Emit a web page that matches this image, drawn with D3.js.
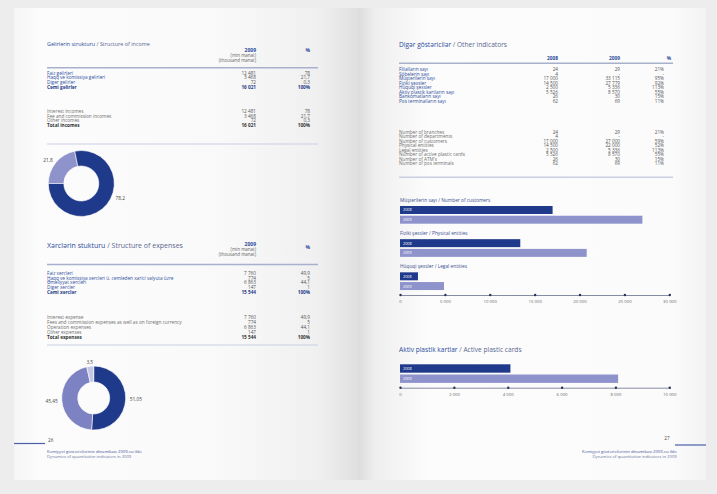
<!DOCTYPE html>
<html><head><meta charset="utf-8">
<script src="https://cdn.jsdelivr.net/npm/d3@7"></script>
<style>body{margin:0;background:#ededed;} svg{display:block;font-family:"Open Sans",sans-serif;}</style>
</head><body><svg id="c" width="717" height="494"></svg>
<script>
// ---------------- DATA ----------------
const incomeTitle = ["Gəlirlərin strukturu", "Structure of income"];
const incomeRowsAz = ["Faiz gəlirləri", "Haqq və komissiya gəlirləri", "Digər gəlirlər", "Cəmi gəlirlər"];
const incomeRowsEn = ["Interest incomes", "Fee and commission incomes", "Other incomes", "Total incomes"];
const incomeValues = [12481, 3468, 72, 16021];
const incomePct = ["78", "21,7", "0,3", "100%"];
const incomeDonutValues = [21.8, 78.2];
const incomeDonutLabels = ["21,8", "78,2"];

const expenseTitle = ["Xərclərin stukturu", "Structure of expenses"];
const expenseRowsAz = ["Faiz xərcləri", "Haqq və komissiya  xərcləri ü. cəmlədən xarici valyuta üzrə", "Əməliyyat xərcləri", "Digər xərclər", "Cəmi xərclər"];
const expenseRowsEn = ["Interest expense", "Fees and commission expenses as well as on foreign currency", "Operation expenses", "Other expenses", "Total expenses"];
const expenseValues = [7760, 774, 6863, 147, 15544];
const expensePct = ["49,9", "5", "44,1", "1", "100%"];
const expenseDonutValues = [51.05, 45.45, 3.5];
const expenseDonutLabels = ["51,05", "45,45", "3,5"];

const unitHeader = ["2009", "(min manat)", "(thousand manat)"];

const indicatorsTitle = ["Digər göstəricilər", "Other indicators"];
const indicatorYears = ["2008", "2009"];
const indicatorRowsAz = ["Filialların sayı", "Şöbələrin sayı", "Müştərilərin sayı", "Fiziki şəxslər", "Hüquqi şəxslər", "Aktiv plastik kartların sayı", "Bankomatların sayı", "Pos terminalların sayı"];
const indicatorRowsEn = ["Number of branches", "Number of departments", "Number of customers", "Physical entities", "Legal entities", "Number of active plastic cards", "Number of ATM's", "Number of pos terminals"];
const ind2008 = [24, 4, 17000, 14500, 2500, 5526, 26, 62];
const ind2009Az = [29, null, 33115, 27779, 5336, 8570, 30, 69];
const indPctAz = ["21%", "-", "95%", "92%", "113%", "55%", "15%", "11%"];
const ind2009En = [29, null, 27000, 22000, 5336, 8570, 30, 69];
const indPctEn = ["21%", "-", "59%", "52%", "113%", "55%", "15%", "11%"];

const barGroups = ["Müştərilərin sayı / Number of customers", "Fiziki şəxslər / Physical entities", "Hüquqi şəxslər / Legal entities"];
const bars2008 = [17000, 13400, 2000];
const bars2009 = [27000, 20800, 4900];
const barTicks = [0, 5000, 10000, 15000, 20000, 25000, 30000];

const cardsTitle = ["Aktiv plastik kartlar", "Active plastic cards"];
const cards2008 = [4100];
const cards2009 = [8100];
const cardTicks = [0, 2000, 4000, 6000, 8000, 10000];

const pageNumbers = ["26", "27"];
const footerLines = ["Kəmiyyət göstəricilərinin dinamikası 2009-cu ildə", "Dynamics of quantitative indicators in 2009"];

// ---------------- STYLE ----------------
const DARK = "#1f3a8a", LIGHT = "#8f93cb", MID = "#7c82c2", PALE = "#c4c7e5";
const BLUE_TXT = "#2f4f9e", GRAY_TXT = "#707070", VAL_TXT = "#555";
const fmt = d3.formatLocale({decimal: ",", thousands: " ", grouping: [3], currency: ["", ""]}).format(",d");
const fmtV = v => v == null ? "-" : fmt(v);

const svg = d3.select("#c");
const defs = svg.append("defs");
function grad(id, stops) {
  const g = defs.append("linearGradient").attr("id", id).attr("x1", 0).attr("x2", 1).attr("y1", 0).attr("y2", 0);
  stops.forEach(s => g.append("stop").attr("offset", s[0]).attr("stop-color", s[1]));
}
grad("gl", [[0, "#f6f6f6"], [0.08, "#fcfcfc"], [0.6, "#f9f9f9"], [0.88, "#f0f0f0"], [1, "#e0e0e0"]]);
grad("gr", [[0, "#dcdcdc"], [0.05, "#efefef"], [0.2, "#fcfcfc"], [0.9, "#fbfbfb"], [1, "#f3f3f3"]]);
svg.append("rect").attr("width", 717).attr("height", 494).attr("fill", "#ededed");
svg.append("rect").attr("x", 14).attr("y", 8).attr("width", 344).attr("height", 472).attr("fill", "url(#gl)");
svg.append("rect").attr("x", 358).attr("y", 8).attr("width", 348).attr("height", 472).attr("fill", "url(#gr)");

function title(x, y, parts, size) {
  const t = svg.append("text").attr("x", x).attr("y", y).attr("font-size", size).attr("dominant-baseline", "central");
  t.append("tspan").attr("fill", "#2a4a9c").text(parts[0] + " ");
  t.append("tspan").attr("fill", "#5a6790").text("/ " + parts[1]);
}
function hline(x1, x2, y, w, c) {
  svg.append("line").attr("x1", x1).attr("x2", x2).attr("y1", y).attr("y2", y).attr("stroke", c).attr("stroke-width", w);
}
function rows(labels, cols, yRange, xLabel, boldLast, labelColor, boldColor) {
  const y = d3.scalePoint().domain(d3.range(labels.length)).range(yRange);
  const g = svg.append("g").attr("font-size", 4.7);
  labels.forEach((l, i) => {
    const bold = boldLast && i === labels.length - 1;
    g.append("text").attr("x", xLabel).attr("y", y(i)).attr("dominant-baseline", "central")
      .attr("fill", bold ? boldColor : labelColor).attr("font-weight", bold ? 700 : 400).text(l);
    cols.forEach(c => {
      g.append("text").attr("x", c.x).attr("y", y(i)).attr("dominant-baseline", "central").attr("text-anchor", "end")
        .attr("fill", bold ? boldColor : VAL_TXT).attr("font-weight", bold ? 700 : 400).text(c.values[i]);
    });
  });
}
function unitHead(xEnd, yTop, xPct, yPct) {
  const g = svg.append("g").attr("text-anchor", "end");
  unitHeader.forEach((t, i) => {
    g.append("text").attr("x", xEnd).attr("y", yTop + i * 5).attr("dominant-baseline", "central")
      .attr("font-size", i === 0 ? 5 : 4.5).attr("font-weight", i === 0 ? 700 : 400)
      .attr("fill", i === 0 ? "#2a4a9c" : "#666").text(t);
  });
  g.append("text").attr("x", xPct).attr("y", yPct).attr("dominant-baseline", "central").attr("font-size", 5)
    .attr("font-weight", 700).attr("fill", "#2a4a9c").text("%");
}
function donut(cx, cy, rOut, rIn, values, labels, colors, startDeg, labelShift) {
  const pie = d3.pie().sort(null).value(d => d).startAngle(startDeg * Math.PI / 180).endAngle(startDeg * Math.PI / 180 + 2 * Math.PI);
  const arc = d3.arc().innerRadius(rIn).outerRadius(rOut);
  const arcs = pie(values);
  const g = svg.append("g").attr("transform", `translate(${cx},${cy})`);
  g.selectAll("path").data(arcs).join("path").attr("d", arc).attr("fill", (d, i) => colors[i])
    .attr("stroke", "#fff").attr("stroke-width", 0.6);
  arcs.forEach((d, i) => {
    const a = (d.startAngle + d.endAngle) / 2 + (labelShift[i] || 0) * Math.PI / 180;
    const r = rOut + 4;
    const sx = Math.sin(a);
    g.append("text").attr("x", r * sx).attr("y", -r * Math.cos(a)).attr("dominant-baseline", "central")
      .attr("text-anchor", sx > 0.3 ? "start" : sx < -0.3 ? "end" : "middle")
      .attr("font-size", 4.8).attr("fill", "#444").text(labels[i]);
  });
}

// ---------------- LEFT PAGE ----------------
title(47, 43.5, incomeTitle, 5.4);
unitHead(256, 50, 310, 50);
hline(47, 318, 67.7, 1.6, "#a7b1cc");
rows(incomeRowsAz, [{x: 256, values: incomeValues.map(fmtV)}, {x: 310, values: incomePct}], [72.7, 86.9], 47, true, BLUE_TXT, DARK);
rows(incomeRowsEn, [{x: 256, values: incomeValues.map(fmtV)}, {x: 310, values: incomePct}], [111, 124.6], 47, true, GRAY_TXT, "#333");
hline(47, 318, 144, 1.2, "#c9cfdf");
donut(81.3, 183.5, 33, 17.5, incomeDonutValues, incomeDonutLabels, [LIGHT, DARK], -90, [0, -17]);

title(47, 245, expenseTitle, 7);
unitHead(256, 244, 310, 247);
hline(47, 318, 264.5, 1.6, "#a7b1cc");
rows(expenseRowsAz, [{x: 256, values: expenseValues.map(fmtV)}, {x: 310, values: expensePct}], [272.7, 292.1], 47, true, BLUE_TXT, DARK);
rows(expenseRowsEn, [{x: 256, values: expenseValues.map(fmtV)}, {x: 310, values: expensePct}], [317.3, 336.5], 47, true, GRAY_TXT, "#333");
hline(47, 318, 345, 1.2, "#c9cfdf");
donut(93.7, 398, 32, 16, expenseDonutValues, expenseDonutLabels, [DARK, MID, PALE], 0, [0, 0, 0]);

// footer left
hline(14, 45, 443.5, 1.2, "#4a5fa8");
svg.append("text").attr("x", 48).attr("y", 440).attr("font-size", 4.6).attr("fill", "#444").attr("dominant-baseline", "central").text(pageNumbers[0]);
footerLines.forEach((t, i) => svg.append("text").attr("x", 47).attr("y", 451.7 + i * 4.5).attr("font-size", 4.2)
  .attr("fill", i === 0 ? "#3b4f95" : "#6a74a0").attr("dominant-baseline", "central").text(t));

// ---------------- RIGHT PAGE ----------------
title(399, 44, indicatorsTitle, 6.6);
indicatorYears.forEach((yr, i) => svg.append("text").attr("x", [558, 620][i]).attr("y", 58.3).attr("text-anchor", "end")
  .attr("dominant-baseline", "central").attr("font-size", 4.8).attr("font-weight", 700).attr("fill", "#2a4a9c").text(yr));
svg.append("text").attr("x", 671).attr("y", 58.3).attr("text-anchor", "end").attr("dominant-baseline", "central")
  .attr("font-size", 4.8).attr("font-weight", 700).attr("fill", "#2a4a9c").text("%");
hline(399, 673, 63.3, 1.6, "#a7b1cc");
rows(indicatorRowsAz, [{x: 558, values: ind2008.map(fmtV)}, {x: 620, values: ind2009Az.map(fmtV)}, {x: 664, values: indPctAz}], [69, 101], 399, false, BLUE_TXT, DARK);
rows(indicatorRowsEn, [{x: 558, values: ind2008.map(fmtV)}, {x: 620, values: ind2009En.map(fmtV)}, {x: 664, values: indPctEn}], [131.7, 163.3], 399, false, GRAY_TXT, "#333");
hline(399, 673, 177.3, 1.4, "#c9cfdf");

// bar chart helper
function barChart(groups, v8, v9, ticks, bandRange, axisY, labelOffset, innerRange) {
  const x = d3.scaleLinear().domain([0, ticks[ticks.length - 1]]).range([400, 669.3]);
  const gy = d3.scaleBand().domain(d3.range(v8.length)).range(bandRange);
  const iy = d3.scaleBand().domain(indicatorYears).range(innerRange).paddingInner(0.18);
  const g = svg.append("g");
  v8.forEach((_, i) => {
    const base = gy(i);
    if (groups) g.append("text").attr("x", 400).attr("y", base + labelOffset).attr("dominant-baseline", "central")
      .attr("font-size", 4.8).attr("fill", "#3a4e92").text(groups[i]);
    [[v8[i], "2008", DARK], [v9[i], "2009", LIGHT]].forEach(([v, yr, c]) => {
      g.append("rect").attr("x", x(0)).attr("y", base + iy(yr)).attr("width", x(v) - x(0)).attr("height", iy.bandwidth()).attr("fill", c);
      g.append("text").attr("x", x(0) + 3).attr("y", base + iy(yr) + iy.bandwidth() / 2).attr("dominant-baseline", "central")
        .attr("font-size", 3.8).attr("fill", "#fff").text(yr);
    });
  });
  const ax = svg.append("g").attr("transform", `translate(0,${axisY})`)
    .call(d3.axisBottom(x).tickValues(ticks).tickSize(0).tickPadding(5).tickFormat(fmt));
  ax.select(".domain").attr("stroke", "#7a7f99").attr("stroke-width", 0.9);
  ax.selectAll("text").attr("font-size", 4.3).attr("fill", "#666").attr("font-family", "Open Sans, sans-serif");
  ax.selectAll(".tick").append("circle").attr("r", 1.2).attr("fill", "#2a2f55");
}
barChart(barGroups, bars2008, bars2009, barTicks, [195.7, 295.2], 295, 4, [10.3, 28]);
title(399, 349, cardsTitle, 6.6);
barChart(null, cards2008, cards2009, cardTicks, [364.3, 382.9], 387.7, 0, [0, 18.6]);

// footer right
hline(675, 706, 445, 1.2, "#4a5fa8");
svg.append("text").attr("x", 667).attr("y", 437.5).attr("font-size", 4.6).attr("fill", "#444").attr("text-anchor", "middle").attr("dominant-baseline", "central").text(pageNumbers[1]);
footerLines.forEach((t, i) => svg.append("text").attr("x", 676.7).attr("y", 451.7 + i * 4.5).attr("font-size", 4.2)
  .attr("text-anchor", "end").attr("fill", i === 0 ? "#3b4f95" : "#6a74a0").attr("dominant-baseline", "central").text(t));
</script></body></html>
